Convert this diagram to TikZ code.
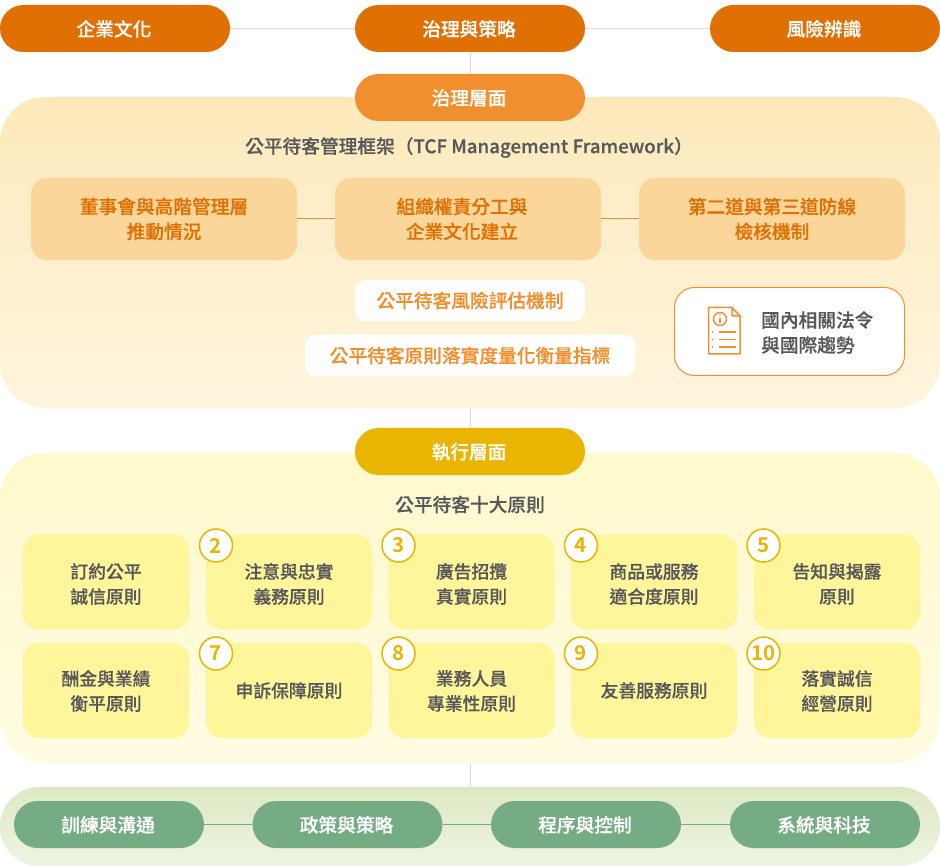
\documentclass[tikz,border=0pt]{standalone}
\usepackage{fontspec}
\setmainfont[BoldFont={Noto Sans CJK TC Medium},BoldFeatures={FakeBold=0.3}]{Noto Sans CJK TC}
\newfontfamily\numfont{Noto Sans CJK TC Bold}
\usetikzlibrary{positioning}

\definecolor{darkorange}{HTML}{E06F04}
\definecolor{midorange}{HTML}{F18F2E}
\definecolor{paleorange}{HTML}{FBD69A}
\definecolor{gold}{HTML}{E9B500}
\definecolor{paleyellow}{HTML}{FFF69B}
\definecolor{sage}{HTML}{76AC84}
\definecolor{inktext}{HTML}{58585A}
\definecolor{greyline}{HTML}{DADADA}

% move a line of text without changing the size of its node
\newcommand{\dropline}[2]{\raisebox{-#1pt}[\height][\depth]{#2}}
\newcommand{\pilltext}[1]{\dropline{0.4}{#1}\hspace*{2pt}}

\tikzset{
  txt/.style={font=\fontsize{18.7}{25}\selectfont\bfseries, align=center, inner sep=0pt},
  box/.style={txt, rounded corners=#1, minimum height=10pt},
  panel/.style={rounded corners=45pt, minimum width=940pt, inner sep=0pt},
  pill/.style={box=23.5pt, text=white, minimum width=230pt, minimum height=47pt},
  topbox/.style={box=16pt, fill=paleorange, text=darkorange, minimum width=266pt, minimum height=82pt},
  whitebox/.style={box=10pt, fill=white, text=midorange, minimum height=41pt},
  rulebox/.style={box=16pt, fill=paleyellow, text=inktext, minimum width=166pt, minimum height=95pt,
    font=\fontsize{17.8}{25}\selectfont\bfseries},
  badge/.style={circle, draw=gold, line width=1.5pt, fill=white, text=gold, minimum size=33pt, inner sep=0pt,
    font=\fontsize{20.5}{20.5}\selectfont\numfont},
  basepill/.style={box=23.5pt, fill=sage, text=white, minimum width=190pt, minimum height=47pt},
}

\begin{document}
\begin{tikzpicture}[x=1pt,y=-1pt]
  \useasboundingbox (0,0) rectangle (940,866);

  % background panels
  \node[panel, minimum height=311pt, top color={rgb,255:red,253;green,233;blue,187}, bottom color={rgb,255:red,255;green,245;blue,222}] (govpanel) at (470,252.5) {};
  \node[panel, minimum height=310pt, top color={rgb,255:red,255;green,249;blue,205}, bottom color={rgb,255:red,255;green,252;blue,226}] (execpanel) at (470,608) {};
  \node[panel, rounded corners=39.5pt, minimum height=79pt, top color={rgb,255:red,221;green,233;blue,195}, bottom color={rgb,255:red,238;green,244;blue,226}] (basepanel) at (470,826.5) {};

  % top row
  \node[pill, fill=darkorange] (culture) at (115,28.5) {\pilltext{企業文化}};
  \node[pill, fill=darkorange] (strategy) at (470,28.5) {\pilltext{治理與策略}};
  \node[pill, fill=darkorange] (risk) at (825,28.5) {\pilltext{風險辨識}};

  % layer headers
  \node[pill, fill=midorange] (govlayer) at (470,97.5) {\pilltext{治理層面}};
  \node[pill, fill=gold] (execlayer) at (470,451.5) {\pilltext{執行層面}};

  % governance layer
  \node[txt, text=inktext] (govtitle) at (469,147.5) {公平待客管理框架（TCF Management Framework）};
  \node[topbox] (board) at (164,219) {董事會與高階管理層\\推動情況};
  \node[topbox] (org) at (468,219) {組織權責分工與\hspace*{12pt}\\企業文化建立\hspace*{12pt}};
  \node[topbox] (defense) at (772,219) {第二道與第三道防線\\檢核機制};
  \node[whitebox, minimum width=230pt] (riskeval) at (470,300.5) {公平待客風險評估機制};
  \node[whitebox, minimum width=330pt] (metric) at (470,355.5) {公平待客原則落實度量化衡量指標};
  \node[box=20pt, draw=midorange, line width=1pt, fill=white, minimum width=230pt, minimum height=88pt] (lawbox) at (789.5,331.5) {};
  \node[txt, text=inktext, align=left, anchor=west] (lawtext) at (761,332.5) {國內相關法令\\與國際趨勢};

  % document icon
  \draw[midorange, line width=1.5pt, line join=round]
    (732,307.5) -- (708.5,307.5) -- (708.5,354) -- (740,354) -- (740,316) -- (732,307.5) -- (732,316) -- (740,316);
  \draw[midorange, line width=1.5pt] (720,319) circle (6.5pt);
  \draw[midorange, line width=1.5pt] (720,318) -- (720,323);
  \fill[midorange] (720,315.3) circle (0.9pt);
  \foreach \ypos in {332,339.5,347} {
    \draw[midorange, line width=1.5pt] (719,\ypos) -- (736,\ypos);
    \fill[midorange] (712.5,\ypos) circle (1pt);
  }

  % execution layer
  \node[txt, text=inktext] (exectitle) at (470,504.5) {公平待客十大原則};
  \node[rulebox] (ruleA) at (106,582) {\dropline{2}{訂約公平}\\\dropline{2}{誠信原則}};
  \node[rulebox] (ruleB) at (289,582) {\dropline{2}{注意與忠實}\\\dropline{2}{義務原則}};
  \node[rulebox] (ruleC) at (471.5,582) {\dropline{2}{廣告招攬}\\\dropline{2}{真實原則}};
  \node[rulebox] (ruleD) at (654,582) {\dropline{2}{商品或服務}\\\dropline{2}{適合度原則}};
  \node[rulebox] (ruleE) at (837,582) {\dropline{2}{告知與揭露}\\\dropline{2}{原則}};
  \node[rulebox] (ruleF) at (106,690.5) {\dropline{0.5}{酬金與業績}\\\dropline{0.5}{衡平原則}};
  \node[rulebox] (ruleG) at (289,690.5) {申訴保障原則};
  \node[rulebox] (ruleH) at (471.5,690.5) {\dropline{0.5}{業務人員}\\\dropline{0.5}{專業性原則}};
  \node[rulebox] (ruleI) at (654,690.5) {友善服務原則};
  \node[rulebox] (ruleJ) at (837,690.5) {\dropline{0.5}{落實誠信}\\\dropline{0.5}{經營原則}};

  % number badges
  \node[badge] (numB) at (216,545.5) {2};
  \node[badge] (numC) at (398.5,545.5) {3};
  \node[badge] (numD) at (581,545.5) {4};
  \node[badge] (numE) at (763.5,545.5) {5};
  \node[badge] (numG) at (216,653.5) {7};
  \node[badge] (numH) at (398.5,653.5) {8};
  \node[badge] (numI) at (581,653.5) {9};
  \node[badge] (numJ) at (763.5,653.5) {10};

  % base row
  \node[basepill] (training) at (109,824.5) {\pilltext{訓練與溝通}};
  \node[basepill] (policy) at (347.5,824.5) {\pilltext{政策與策略}};
  \node[basepill] (control) at (586,824.5) {\pilltext{程序與控制}};
  \node[basepill] (tech) at (825,824.5) {\pilltext{系統與科技}};

  % connectors
  \draw[greyline, line width=1pt] (culture) -- (strategy);
  \draw[greyline, line width=1pt] (strategy) -- (risk);
  \draw[greyline, line width=1pt] (strategy) -- (govlayer);
  \draw[greyline, line width=1pt] (govpanel.south) -- (execlayer.north);
  \draw[greyline, line width=1pt] (execpanel.south) -- (basepanel.north);
  \draw[midorange, line width=1pt] (board) -- (org);
  \draw[midorange, line width=1pt] (org) -- (defense);
  \draw[sage, line width=1pt] (training) -- (policy);
  \draw[sage, line width=1pt] (policy) -- (control);
  \draw[sage, line width=1pt] (control) -- (tech);
\end{tikzpicture}
\end{document}
